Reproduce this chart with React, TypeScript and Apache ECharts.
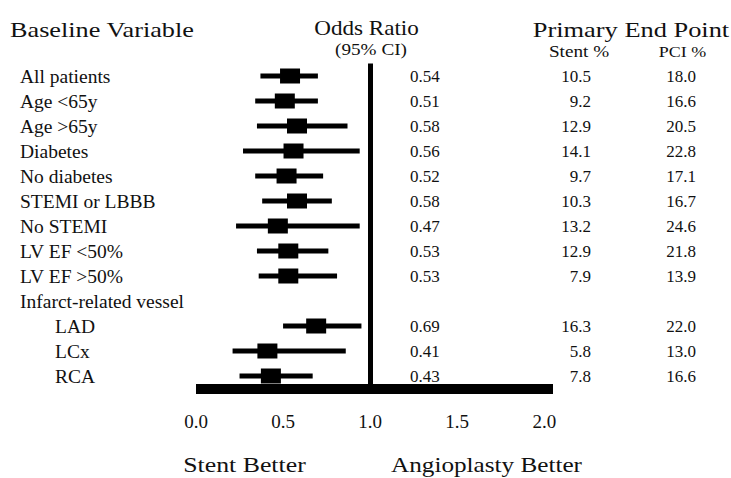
import React, { useEffect, useRef } from "react";
import * as echarts from "echarts";

const rowLabels = [
  "All patients",
  "Age <65y",
  "Age >65y",
  "Diabetes",
  "No diabetes",
  "STEMI or LBBB",
  "No STEMI",
  "LV EF <50%",
  "LV EF >50%",
  "Infarct-related vessel",
  "LAD",
  "LCx",
  "RCA",
];
const indentedRows = ["LAD", "LCx", "RCA"];
const oddsRatio = [0.54, 0.51, 0.58, 0.56, 0.52, 0.58, 0.47, 0.53, 0.53, null, 0.69, 0.41, 0.43];
const ciLow = [0.37, 0.34, 0.35, 0.27, 0.34, 0.38, 0.23, 0.35, 0.36, null, 0.5, 0.21, 0.25];
const ciHigh = [0.7, 0.7, 0.87, 0.94, 0.73, 0.78, 0.94, 0.76, 0.81, null, 0.95, 0.86, 0.67];
const orText = ["0.54", "0.51", "0.58", "0.56", "0.52", "0.58", "0.47", "0.53", "0.53", "", "0.69", "0.41", "0.43"];
const stentPct = ["10.5", "9.2", "12.9", "14.1", "9.7", "10.3", "13.2", "12.9", "7.9", "", "16.3", "5.8", "7.8"];
const pciPct = ["18.0", "16.6", "20.5", "22.8", "17.1", "16.7", "24.6", "21.8", "13.9", "", "22.0", "13.0", "16.6"];
const referenceOR = 1;

const FONT = '"Liberation Serif", "Times New Roman", serif';
const INK = "#111";

export default function App() {
  const ref = useRef<HTMLDivElement>(null);

  useEffect(() => {
    if (!ref.current) return;
    const chart = echarts.init(ref.current, undefined, { renderer: "svg" });

    const whiskerData: number[][] = [];
    const squareData: number[][] = [];
    rowLabels.forEach((_, i) => {
      if (oddsRatio[i] != null) {
        whiskerData.push([ciLow[i] as number, ciHigh[i] as number, i]);
        squareData.push([oddsRatio[i] as number, i]);
      }
    });

    const colAxis = (offset: number, align: string, texts: string[]) => ({
      type: "category",
      data: rowLabels,
      inverse: true,
      position: "left",
      offset,
      axisLine: { show: false, onZero: false },
      axisTick: { show: false },
      splitLine: { show: false },
      axisLabel: {
        interval: 0,
        align,
        margin: 0,
        fontSize: 17,
        fontFamily: FONT,
        color: INK,
        formatter: (_v: string, i: number) => texts[i],
      },
    });

    const headerText = (text: string, x: number, y: number, size: number, align: string, sx = 1.2) => ({
      type: "text",
      x,
      y,
      scaleX: sx,
      style: {
        text,
        x: 0,
        y: 0,
        fontSize: size,
        fontFamily: FONT,
        fill: INK,
        textAlign: align,
        verticalAlign: "middle",
      },
    });

    chart.setOption({
      animation: false,
      backgroundColor: "#fff",
      grid: { left: 196, top: 63.5, width: 357, height: 325, containLabel: false },
      xAxis: {
        type: "value",
        min: 0,
        max: 2.05,
        interval: 0.5,
        axisLine: { show: true, onZero: false, lineStyle: { color: "#000", width: 10, cap: "butt" } },
        axisTick: { show: false },
        splitLine: { show: false },
        axisLabel: {
          showMaxLabel: false,
          margin: 23,
          fontSize: 19,
          fontFamily: FONT,
          color: INK,
          formatter: (v: number) => v.toFixed(1),
        },
      },
      yAxis: [
        {
          type: "category",
          data: rowLabels,
          inverse: true,
          position: "left",
          axisLine: { show: false, onZero: false },
          axisTick: { show: false },
          splitLine: { show: false },
          axisLabel: {
            interval: 0,
            align: "left",
            margin: 176,
            fontSize: 19.5,
            fontFamily: FONT,
            color: INK,
            formatter: (v: string) => (indentedRows.includes(v) ? `{ind|${v}}` : v),
            rich: {
              ind: { padding: [0, 0, 0, 35], fontSize: 19.5, fontFamily: FONT, color: INK },
            },
          },
        },
        colAxis(196 - 410, "left", orText),
        colAxis(196 - 591, "right", stentPct),
        colAxis(196 - 696, "right", pciPct),
      ],
      series: [
        {
          type: "custom",
          xAxisIndex: 0,
          yAxisIndex: 0,
          data: whiskerData,
          encode: { x: [0, 1], y: 2 },
          z: 2,
          renderItem: (_p: any, api: any) => {
            const a = api.coord([api.value(0), api.value(2)]);
            const b = api.coord([api.value(1), api.value(2)]);
            return {
              type: "line",
              shape: { x1: a[0], y1: a[1], x2: b[0], y2: b[1] },
              style: { stroke: "#000", lineWidth: 5 },
            };
          },
        },
        {
          type: "scatter",
          xAxisIndex: 0,
          yAxisIndex: 0,
          data: squareData,
          symbol: "rect",
          symbolSize: [20, 15],
          itemStyle: { color: "#000", opacity: 1 },
          z: 3,
          markLine: {
            silent: true,
            symbol: ["none", "none"],
            label: { show: false },
            lineStyle: { color: "#000", width: 5, type: "solid", opacity: 1 },
            data: [{ xAxis: referenceOR }],
          },
        },
      ],
      graphic: [
        headerText("Baseline Variable", 10, 30, 21, "left", 1.25),
        headerText("Odds Ratio", 366.5, 28, 21, "center", 1.1),
        headerText("(95% CI)", 371, 50, 16, "center"),
        headerText("Primary End Point", 631, 29, 22, "center"),
        headerText("Stent %", 579, 51.5, 16, "center"),
        headerText("PCI %", 682.5, 52, 15, "center"),
        headerText("Stent Better", 244.5, 465, 21.5, "center"),
        headerText("Angioplasty Better", 486.5, 465, 21, "center"),
      ],
    });

    return () => chart.dispose();
  }, []);

  return (
    <div
      ref={ref}
      style={{ position: "fixed", left: 0, top: 0, width: 731, height: 478, background: "#fff" }}
    />
  );
}
